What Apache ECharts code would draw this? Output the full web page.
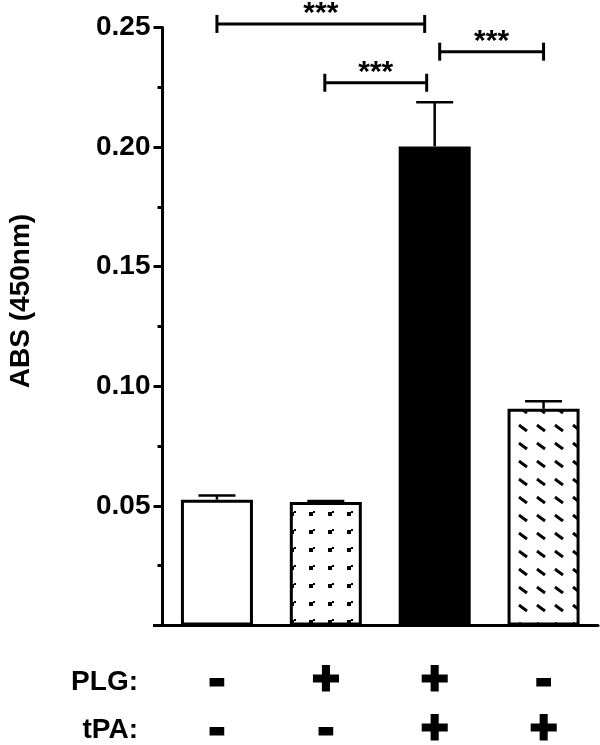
<!DOCTYPE html>
<html>
<head>
<meta charset="utf-8">
<script src="https://cdn.jsdelivr.net/npm/echarts@6/dist/echarts.min.js"></script>
<style>
html, body { margin: 0; padding: 0; background: #fff; }
#chart { width: 600px; height: 745px; }
</style>
</head>
<body>
<div id="chart"></div>
<script>
// groups and treatment table
const groups = ['Control', 'PLG', 'PLG + tPA', 'tPA'];
const plgRow = ['-', '+', '+', '-'];
const tpaRow = ['-', '-', '+', '+'];

// ABS (450nm) mean and mean + SEM
const absMean = [0.0526, 0.0516, 0.2003, 0.0906];
const absUpper = [0.0543, 0.0521, 0.2187, 0.0938];

// y axis ticks
const yMin = 0;
const yMax = 0.25;
const yStep = 0.05;

// significance brackets: from group, to group, height, label
const sigFrom = [0, 1, 2];
const sigTo = [2, 2, 3];
const sigY = [0.2515, 0.2269, 0.2399];
const sigText = ['***', '***', '***'];

const FONT = 'Liberation Sans, Arial, Helvetica, sans-serif';

function makeTile(w, h, draw) {
  const c = document.createElement('canvas');
  c.width = w;
  c.height = h;
  const ctx = c.getContext('2d');
  ctx.fillStyle = '#fff';
  ctx.fillRect(0, 0, w, h);
  draw(ctx, w, h);
  return c;
}

// small dots for PLG only
const dotTile = makeTile(19, 18, function (ctx) {
  ctx.fillStyle = '#000';
  ctx.fillRect(5, 8, 4, 4);
  ctx.fillRect(9, 7, 2, 2);
});

// short back-slashes for tPA only
const slashTile = makeTile(18, 18, function (ctx, w, h) {
  ctx.strokeStyle = '#000';
  ctx.lineWidth = 3;
  const cx = 1, cy = 14;
  [-w, 0, w].forEach(function (dx) {
    [-h, 0, h].forEach(function (dy) {
      ctx.beginPath();
      ctx.moveTo(cx + dx - 4, cy + dy - 3);
      ctx.lineTo(cx + dx + 4, cy + dy + 3);
      ctx.stroke();
    });
  });
});

const fills = [
  '#fff',
  { image: dotTile, repeat: 'repeat' },
  '#000',
  { image: slashTile, repeat: 'repeat' }
];

// left-right trims for the bracket ends (px)
const bracketTrim = [[0, -10], [-1, -8], [5, 0]];

const chart = echarts.init(document.getElementById('chart'));

const option = {
  animation: false,
  backgroundColor: '#fff',
  grid: { left: 162.5, right: 2, top: 27.5, bottom: 119.5, containLabel: false, outerBoundsMode: 'none' },
  xAxis: {
    type: 'category',
    data: groups,
    axisLine: { lineStyle: { color: '#000', width: 3 } },
    axisTick: { alignWithLabel: true, length: 9, lineStyle: { color: '#000', width: 3 } },
    axisLabel: {
      margin: 31,
      interval: 0,
      lineHeight: 49,
      fontSize: 46,
      fontWeight: 'bold',
      fontFamily: FONT,
      color: '#000',
      textBorderColor: '#000',
      textBorderWidth: 3,
      formatter: function (v, i) { return plgRow[i] + '\n' + tpaRow[i]; }
    }
  },
  yAxis: {
    type: 'value',
    min: yMin,
    max: yMax,
    interval: yStep,
    splitLine: { show: false },
    axisLine: { show: true, lineStyle: { color: '#000', width: 3 } },
    axisTick: { show: true, length: 9, lineStyle: { color: '#000', width: 3 } },
    minorTick: { show: true, splitNumber: 2, length: 5, lineStyle: { color: '#000', width: 3 } },
    axisLabel: {
      showMinLabel: false,
      margin: 12,
      fontSize: 28,
      fontWeight: 'bold',
      fontFamily: FONT,
      color: '#000',
      padding: [5, 0, 0, 0],
      formatter: function (v) { return v.toFixed(2); }
    }
  },
  graphic: [
    {
      type: 'rect',
      shape: { x: 153, y: 624, width: 10, height: 3 },
      style: { fill: '#000' }
    },
    {
      type: 'text',
      x: 21.5, y: 301,
      rotation: Math.PI / 2,
      style: {
        text: 'ABS (450nm)', fill: '#000',
        font: 'bold 28px ' + FONT,
        align: 'center', verticalAlign: 'middle'
      }
    },
    {
      type: 'text',
      x: 138, y: 682,
      style: {
        text: 'PLG:', fill: '#000',
        font: 'bold 28px ' + FONT,
        align: 'right', verticalAlign: 'middle'
      }
    },
    {
      type: 'text',
      x: 138, y: 730,
      style: {
        text: 'tPA:', fill: '#000',
        font: 'bold 28px ' + FONT,
        align: 'right', verticalAlign: 'middle'
      }
    }
  ],
  series: [
    {
      type: 'bar',
      barWidth: 72,
      data: absMean.map(function (v, i) {
        return {
          value: v,
          itemStyle: { color: fills[i], borderColor: '#000', borderWidth: 3 }
        };
      })
    },
    {
      // error bars (upper only)
      type: 'custom',
      data: absMean.map(function (v, i) { return [i, v, absUpper[i]]; }),
      renderItem: function (params, api) {
        const base = api.coord([api.value(0), api.value(1)]);
        const top = api.coord([api.value(0), api.value(2)]);
        const half = 18.5;
        return {
          type: 'group',
          children: [
            { type: 'line', shape: { x1: base[0], y1: base[1], x2: top[0], y2: top[1] },
              style: { stroke: '#000', lineWidth: 2.5 } },
            { type: 'line', shape: { x1: top[0] - half, y1: top[1], x2: top[0] + half, y2: top[1] },
              style: { stroke: '#000', lineWidth: 2.5 } }
          ]
        };
      },
      z: 5
    },
    {
      // significance brackets
      type: 'custom',
      clip: false,
      data: sigFrom.map(function (f, i) { return [f, sigTo[i], sigY[i]]; }),
      renderItem: function (params, api) {
        const i = params.dataIndex;
        const a = api.coord([api.value(0), api.value(2)]);
        const b = api.coord([api.value(1), api.value(2)]);
        const x1 = a[0] + bracketTrim[i][0];
        const x2 = b[0] + bracketTrim[i][1];
        const y = a[1];
        const st = { stroke: '#000', lineWidth: 3 };
        return {
          type: 'group',
          children: [
            { type: 'line', shape: { x1: x1, y1: y, x2: x2, y2: y }, style: st },
            { type: 'line', shape: { x1: x1, y1: y - 9, x2: x1, y2: y + 9 }, style: st },
            { type: 'line', shape: { x1: x2, y1: y - 9, x2: x2, y2: y + 9 }, style: st },
            { type: 'text', x: (x1 + x2) / 2, y: y - 10,
              style: { text: sigText[i], fill: '#000', font: 'bold 30px ' + FONT,
                       align: 'center', verticalAlign: 'middle' } }
          ]
        };
      },
      z: 5
    }
  ]
};

chart.setOption(option);
</script>
</body>
</html>
